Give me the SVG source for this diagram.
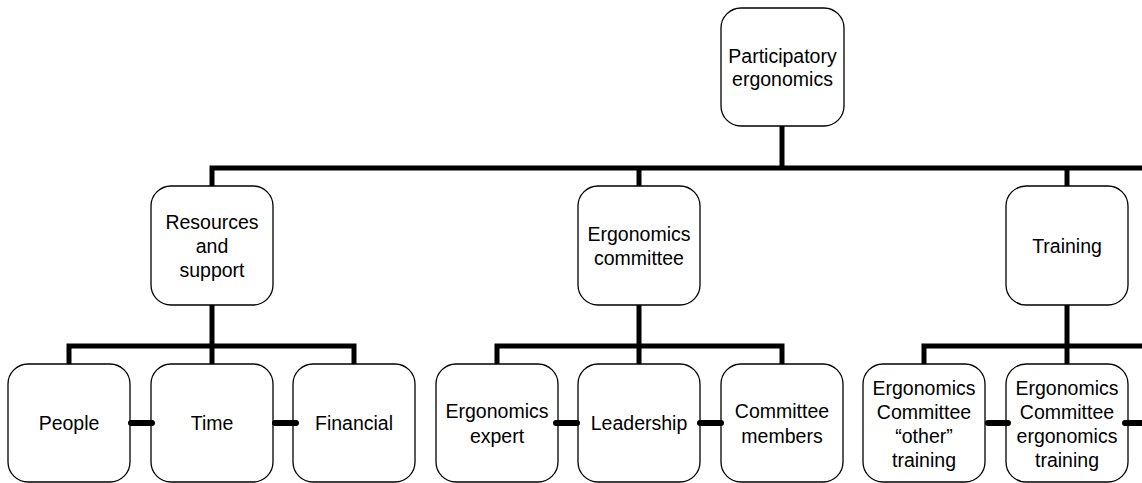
<svg xmlns="http://www.w3.org/2000/svg" width="1142" height="483" viewBox="0 0 1142 483">
<style>
.box{fill:#fff;stroke:#000;stroke-width:1.3}
.t{font-family:"Liberation Sans",Arial,sans-serif;font-size:19.5px;fill:#000;text-anchor:middle}
.c{fill:none;stroke:#000;stroke-width:5;stroke-linejoin:miter;stroke-linecap:butt}
.s{fill:none;stroke:#000;stroke-width:6;stroke-linecap:round}
</style>
<rect width="1142" height="483" fill="#fff"/>
<g id="root"><rect class="box" x="721" y="8" width="123" height="118" rx="20"/>
<text class="t" x="782.5" y="63">Participatory</text><text class="t" x="782.5" y="86">ergonomics</text></g>
<g id="resources"><rect class="box" x="151" y="186" width="122" height="119" rx="20"/>
<text class="t" x="212" y="229">Resources</text><text class="t" x="212" y="253">and</text><text class="t" x="212" y="277">support</text></g>
<g id="committee"><rect class="box" x="578" y="186" width="122" height="119" rx="20"/>
<text class="t" x="639" y="241">Ergonomics</text><text class="t" x="639" y="265">committee</text></g>
<g id="training"><rect class="box" x="1006" y="186" width="122" height="119" rx="20"/>
<text class="t" x="1067" y="253">Training</text></g>
<g id="people"><rect class="box" x="8" y="364" width="122" height="118" rx="20"/>
<text class="t" x="69" y="430">People</text></g>
<g id="time"><rect class="box" x="151" y="364" width="122" height="118" rx="20"/>
<text class="t" x="212" y="430">Time</text></g>
<g id="financial"><rect class="box" x="293" y="364" width="122" height="118" rx="20"/>
<text class="t" x="354" y="430">Financial</text></g>
<g id="expert"><rect class="box" x="436" y="364" width="122" height="118" rx="20"/>
<text class="t" x="497" y="418">Ergonomics</text><text class="t" x="497" y="443">expert</text></g>
<g id="leadership"><rect class="box" x="578" y="364" width="122" height="118" rx="20"/>
<text class="t" x="639" y="430">Leadership</text></g>
<g id="members"><rect class="box" x="721" y="364" width="122" height="118" rx="20"/>
<text class="t" x="782" y="418">Committee</text><text class="t" x="782" y="443">members</text></g>
<g id="other-training"><rect class="box" x="863" y="364" width="122" height="118" rx="20"/>
<text class="t" x="924" y="395">Ergonomics</text><text class="t" x="924" y="419">Committee</text><text class="t" x="924" y="443">“other”</text><text class="t" x="924" y="467">training</text></g>
<g id="ergo-training"><rect class="box" x="1006" y="364" width="122" height="118" rx="20"/>
<text class="t" x="1067" y="395">Ergonomics</text><text class="t" x="1067" y="419">Committee</text><text class="t" x="1067" y="443">ergonomics</text><text class="t" x="1067" y="467">training</text></g>
<g id="connectors">
<path class="c" d="M782,126 V168"/>
<path class="c" d="M212,186 V168 H1142"/>
<path class="c" d="M639,168 V186"/>
<path class="c" d="M1067,168 V186"/>
<path class="c" d="M212,305 V364"/>
<path class="c" d="M69,364 V346 H354 V364"/>
<path class="c" d="M639,305 V364"/>
<path class="c" d="M497,364 V346 H782 V364"/>
<path class="c" d="M1067,305 V364"/>
<path class="c" d="M924,364 V346 H1142"/>
<line class="s" x1="131" y1="423" x2="152" y2="423"/>
<line class="s" x1="275" y1="423" x2="296" y2="423"/>
<line class="s" x1="556" y1="423" x2="577" y2="423"/>
<line class="s" x1="700" y1="423" x2="721" y2="423"/>
<line class="s" x1="988" y1="423" x2="1008" y2="423"/>
<line class="s" x1="1125" y1="423" x2="1145" y2="423"/>
</g>
</svg>
